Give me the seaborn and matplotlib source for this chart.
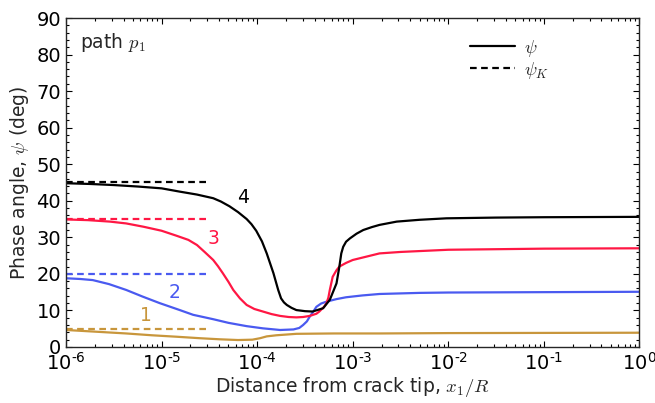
import numpy as np
import pandas as pd
import matplotlib
matplotlib.use("Agg")
import matplotlib.pyplot as plt
from matplotlib.ticker import AutoMinorLocator, LogLocator, FuncFormatter
from matplotlib.font_manager import FontProperties
from matplotlib.lines import Line2D
import seaborn as sns

# --- phase angle psi along path p1, four load cases (x given as log10(x1/R)) ---
logx_1 = [-6.0, -5.7, -5.37, -5.1, -4.84, -4.6, -4.39, -4.2, -4.05, -3.97, -3.9,
          -3.8, -3.59, -3.2, -2.72, -2.0, -1.0, 0.0]
psi_1 = [4.65, 4.2, 3.7, 3.2, 2.8, 2.4, 2.1, 1.9, 2.0, 2.4, 2.9,
         3.2, 3.6, 3.7, 3.7, 3.8, 3.85, 3.9]

logx_2 = [-6.0, -5.85, -5.72, -5.55, -5.37, -5.2, -5.02, -4.81, -4.67, -4.46, -4.3,
          -4.11, -3.94, -3.76, -3.62, -3.56, -3.52, -3.48, -3.45, -3.41, -3.38, -3.33,
          -3.275, -3.17, -3.07, -2.9, -2.72, -2.3, -2.0, -1.0, 0.0]
psi_2 = [18.8, 18.6, 18.3, 17.2, 15.6, 13.8, 12.0, 10.1, 8.8, 7.6, 6.6,
         5.7, 5.1, 4.65, 4.8, 5.2, 6.0, 7.0, 8.3, 9.8, 11.0, 11.9,
         12.4, 13.1, 13.6, 14.1, 14.5, 14.8, 14.9, 15.0, 15.1]

logx_3 = [-6.0, -5.77, -5.54, -5.37, -5.19, -5.0, -4.84, -4.72, -4.63, -4.55, -4.46,
          -4.41, -4.36, -4.3, -4.25, -4.18, -4.11, -4.03, -3.94, -3.85, -3.76, -3.67,
          -3.59, -3.52, -3.45, -3.38, -3.35, -3.3, -3.275, -3.255, -3.24, -3.21, -3.17,
          -3.14, -3.07, -3.0, -2.86, -2.72, -2.5, -2.0, -1.0, 0.0]
psi_3 = [34.9, 34.7, 34.3, 33.8, 32.9, 31.8, 30.4, 29.3, 27.9, 26.0, 23.8,
         22.1, 20.2, 17.8, 15.6, 13.3, 11.5, 10.4, 9.7, 9.0, 8.5, 8.2,
         8.1, 8.2, 8.5, 9.1, 9.7, 11.0, 12.0, 13.5, 15.6, 19.2, 21.0,
         22.0, 23.0, 23.8, 24.7, 25.6, 26.0, 26.6, 26.9, 27.0]

logx_4 = [-6.0, -5.75, -5.5, -5.25, -5.0, -4.81, -4.63, -4.46, -4.38, -4.29, -4.2,
          -4.11, -4.06, -4.01, -3.95, -3.9, -3.83, -3.78, -3.75, -3.72, -3.69, -3.64,
          -3.59, -3.5, -3.42, -3.31, -3.24, -3.17, -3.14, -3.12, -3.1, -3.07, -3.03,
          -2.96, -2.89, -2.8, -2.72, -2.54, -2.3, -2.02, -1.5, -1.0, 0.0]
psi_4 = [44.8, 44.6, 44.3, 43.9, 43.4, 42.5, 41.7, 40.7, 39.8, 38.5, 36.9,
         35.0, 33.6, 31.8, 28.9, 25.6, 20.2, 15.6, 13.3, 12.2, 11.5, 10.7,
         10.1, 9.8, 9.7, 10.6, 12.9, 17.4, 22.0, 25.6, 27.4, 28.8, 29.7,
         31.0, 32.0, 32.8, 33.4, 34.3, 34.8, 35.2, 35.4, 35.5, 35.6]

# K-field phase angles, drawn over the near-tip range
psi_K = [5, 20, 35, 45]
psiK_range = [1e-6, 3e-5]

case_labels = ["1", "2", "3", "4"]
case_colors = ["#c8963c", "#4a5af0", "#ff1744", "#000000"]
label_logx = [-5.16, -4.86, -4.46, -4.15]
label_psi = [8.5, 15.0, 29.8, 41.0]

sns.set_theme(style="ticks")
plt.rcParams["font.family"] = ["DejaVu Sans"]
plt.rcParams["axes.linewidth"] = 1.0

fig = plt.figure(figsize=(6.55, 4.03), dpi=100)
ax = fig.add_axes([0.1008, 0.139, 0.8755, 0.8163])

curves = [(logx_1, psi_1), (logx_2, psi_2), (logx_3, psi_3), (logx_4, psi_4)]
for (lx, ps), col, pk in zip(curves, case_colors, psi_K):
    df = pd.DataFrame({"x": 10.0 ** np.array(lx), "psi": ps})
    sns.lineplot(data=df, x="x", y="psi", ax=ax, color=col, lw=1.6,
                 estimator=None, sort=False)
    dk = pd.DataFrame({"x": psiK_range, "psi": [pk, pk]})
    sns.lineplot(data=dk, x="x", y="psi", ax=ax, color=col, lw=1.6,
                 estimator=None, sort=False, dashes=False, linestyle=(0, (3, 2)))

for lab, lx, ly, col in zip(case_labels, label_logx, label_psi, case_colors):
    ax.text(10.0 ** lx, ly, lab, color=col, fontsize=13.5, ha="center", va="center")


def decade_label(v, pos):
    e = int(round(np.log10(v)))
    if e < 0:
        return r"$\mathdefault{10^{\text{-}%d}}$" % (-e)
    return r"$\mathdefault{10^{%d}}$" % e


ax.set_xscale("log")
ax.set_xlim(1e-6, 1)
ax.set_ylim(0, 90)
ax.set_yticks(np.arange(0, 91, 10))
ax.yaxis.set_minor_locator(AutoMinorLocator(5))
ax.xaxis.set_major_locator(LogLocator(base=10, numticks=10))
ax.xaxis.set_major_formatter(FuncFormatter(decade_label))
ax.xaxis.set_minor_locator(LogLocator(base=10, subs=np.arange(2, 10), numticks=20))
ax.tick_params(which="both", direction="in", top=True, right=True, labelsize=14,
               width=0.8, colors="black")
ax.tick_params(which="major", length=4)
ax.tick_params(which="minor", length=2)

ax.set_xlabel(r"Distance from crack tip, $x_1/R$", fontsize=13.5, math_fontfamily="cm",
              labelpad=1)
ax.set_ylabel(r"Phase angle, $\psi$ (deg)", fontsize=13.5, math_fontfamily="cm",
              labelpad=4)
ax.text(0.024, 0.927, r"path $p_1$", transform=ax.transAxes, fontsize=13.5,
        math_fontfamily="cm", ha="left", va="center")

handles = [Line2D([], [], color="black", lw=1.6),
           Line2D([], [], color="black", lw=1.6, linestyle=(0, (3, 2)))]
leg = ax.legend(handles, [r"$\psi$", r"$\psi_K$"], loc="upper left",
                bbox_to_anchor=(0.704, 0.94), frameon=False, borderpad=0,
                borderaxespad=0, handlelength=2.5, handletextpad=0.5,
                labelspacing=0.05,
                prop=FontProperties(size=13, math_fontfamily="cm"))

fig.savefig("out.png", dpi=100)
